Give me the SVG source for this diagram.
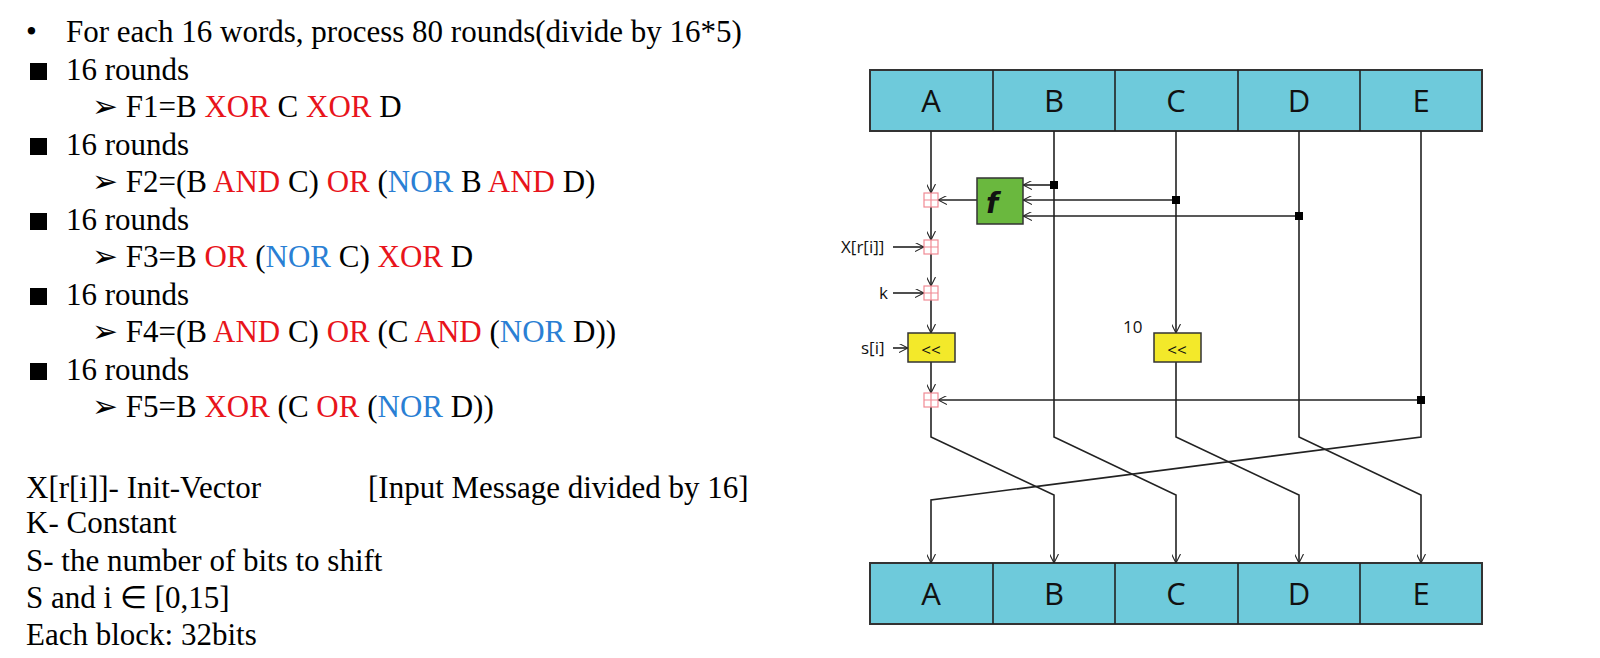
<svg xmlns="http://www.w3.org/2000/svg" width="1600" height="658" viewBox="0 0 1600 658">
<defs>
<marker id="ar" viewBox="0 0 10 10" refX="10" refY="5" markerWidth="9" markerHeight="9" orient="auto" markerUnits="userSpaceOnUse"><path d="M0,0 L10,5 L0,10" fill="none" stroke="#222" stroke-width="1.2"/></marker>
</defs>
<style>
.t{font-family:"Liberation Serif",serif;font-size:31px;fill:#000}
.r{fill:#e8141b}.b{fill:#2a7fd4}
.reg{fill:#6ecadb;stroke:#333;stroke-width:2}
.rl{font-family:"Open Sans","DejaVu Sans",sans-serif;font-size:31px;text-anchor:middle;fill:#111}
.ln{fill:none;stroke:#222;stroke-width:1.6}
.add{fill:#fff;stroke:#f08a94;stroke-width:1.2}
.sh{fill:#f3e92a;stroke:#333;stroke-width:1.5}
.sm{font-family:"Open Sans","DejaVu Sans",sans-serif;font-size:17px;fill:#111}
.dot{fill:#000}
</style>
<g id="text">
<text class="t" x="26" y="42">•</text><text class="t" x="66" y="42">For each 16 words, process 80 rounds(divide by 16*5)</text>
<rect x="30" y="63" width="17" height="17" fill="#000"/><text class="t" x="66" y="80">16 rounds</text>
<text class="t" x="92" y="117">➢ F1=B <tspan class="r">XOR</tspan> C <tspan class="r">XOR</tspan> D</text>
<rect x="30" y="138" width="17" height="17" fill="#000"/><text class="t" x="66" y="155">16 rounds</text>
<text class="t" x="92" y="192">➢ F2=(B <tspan class="r">AND</tspan> C) <tspan class="r">OR</tspan> (<tspan class="b">NOR</tspan> B <tspan class="r">AND</tspan> D)</text>
<rect x="30" y="213" width="17" height="17" fill="#000"/><text class="t" x="66" y="230">16 rounds</text>
<text class="t" x="92" y="267">➢ F3=B <tspan class="r">OR</tspan> (<tspan class="b">NOR</tspan> C) <tspan class="r">XOR</tspan> D</text>
<rect x="30" y="288" width="17" height="17" fill="#000"/><text class="t" x="66" y="305">16 rounds</text>
<text class="t" x="92" y="342">➢ F4=(B <tspan class="r">AND</tspan> C) <tspan class="r">OR</tspan> (C <tspan class="r">AND</tspan> (<tspan class="b">NOR</tspan> D))</text>
<rect x="30" y="363" width="17" height="17" fill="#000"/><text class="t" x="66" y="380">16 rounds</text>
<text class="t" x="92" y="417">➢ F5=B <tspan class="r">XOR</tspan> (C <tspan class="r">OR</tspan> (<tspan class="b">NOR</tspan> D))</text>
<text class="t" x="26" y="498">X[r[i]]- Init-Vector</text><text class="t" x="368" y="498">[Input Message divided by 16]</text>
<text class="t" x="26" y="533">K- Constant</text>
<text class="t" x="26" y="571">S- the number of bits to shift</text>
<text class="t" x="26" y="608">S and i ∈ [0,15]</text>
<text class="t" x="26" y="645">Each block: 32bits</text>
</g>
<g id="top">
<rect class="reg" x="870" y="70" width="612" height="61"/>
<path class="ln" d="M993,70V131M1115,70V131M1238,70V131M1360,70V131" stroke-width="1.5"/>
<text class="rl" x="931" y="112">A</text><text class="rl" x="1054" y="112">B</text><text class="rl" x="1176" y="112">C</text><text class="rl" x="1299" y="112">D</text><text class="rl" x="1421" y="112">E</text>
</g>
<g id="bottom">
<rect class="reg" x="870" y="563" width="612" height="61"/>
<path class="ln" d="M993,563V624M1115,563V624M1238,563V624M1360,563V624" stroke-width="1.5"/>
<text class="rl" x="931" y="605">A</text><text class="rl" x="1054" y="605">B</text><text class="rl" x="1176" y="605">C</text><text class="rl" x="1299" y="605">D</text><text class="rl" x="1421" y="605">E</text>
</g>
<g id="connectors">
<path class="ln" d="M931,131V193" marker-end="url(#ar)"/>
<path class="ln" d="M931,207V240" marker-end="url(#ar)"/>
<path class="ln" d="M931,254V286" marker-end="url(#ar)"/>
<path class="ln" d="M931,300V333" marker-end="url(#ar)"/>
<path class="ln" d="M931,362V393" marker-end="url(#ar)"/>
<path class="ln" d="M931,407V437L1054,495V563" marker-end="url(#ar)"/>
<path class="ln" d="M1054,131V437L1176,495V563" marker-end="url(#ar)"/>
<path class="ln" d="M1176,131V333" marker-end="url(#ar)"/>
<path class="ln" d="M1176,362V437L1299,495V563" marker-end="url(#ar)"/>
<path class="ln" d="M1299,131V437L1421,495V563" marker-end="url(#ar)"/>
<path class="ln" d="M1421,131V437L931,500V563" marker-end="url(#ar)"/>
<path class="ln" d="M1054,185H1023" marker-end="url(#ar)"/>
<path class="ln" d="M1176,200H1023" marker-end="url(#ar)"/>
<path class="ln" d="M1299,216H1023" marker-end="url(#ar)"/>
<path class="ln" d="M977,200H938" marker-end="url(#ar)"/>
<path class="ln" d="M1421,400H938" marker-end="url(#ar)"/>
<path class="ln" d="M893,247H924" marker-end="url(#ar)"/>
<path class="ln" d="M893,293H924" marker-end="url(#ar)"/>
<path class="ln" d="M893,348H908" marker-end="url(#ar)"/>
<rect class="dot" x="1050" y="181" width="8" height="8"/>
<rect class="dot" x="1172" y="196" width="8" height="8"/>
<rect class="dot" x="1295" y="212" width="8" height="8"/>
<rect class="dot" x="1417" y="396" width="8" height="8"/>
</g>
<g id="f"><rect x="977" y="178" width="46" height="46" fill="#6ab83e" stroke="#333" stroke-width="1.5"/><text x="986" y="213" font-family="DejaVu Sans,sans-serif" font-weight="bold" font-style="italic" font-size="28" fill="#111">f</text></g>
<g id="adders">
<g transform="translate(924,193)"><rect class="add" width="14" height="14"/><path class="add" d="M7,0V14M0,7H14"/></g>
<g transform="translate(924,240)"><rect class="add" width="14" height="14"/><path class="add" d="M7,0V14M0,7H14"/></g>
<g transform="translate(924,286)"><rect class="add" width="14" height="14"/><path class="add" d="M7,0V14M0,7H14"/></g>
<g transform="translate(924,393)"><rect class="add" width="14" height="14"/><path class="add" d="M7,0V14M0,7H14"/></g>
</g>
<g id="shift1"><rect class="sh" x="908" y="333" width="47" height="29"/><text class="sm" x="931" y="356" text-anchor="middle" font-size="24">&lt;&lt;</text></g>
<g id="shift2"><rect class="sh" x="1154" y="333" width="47" height="29"/><text class="sm" x="1177" y="356" text-anchor="middle" font-size="24">&lt;&lt;</text></g>
<g id="labels">
<text class="sm" x="841" y="253">X[r[i]]</text>
<text class="sm" x="879" y="299">k</text>
<text class="sm" x="861" y="354">s[i]</text>
<text class="sm" x="1123" y="333">10</text>
</g>
</svg>
